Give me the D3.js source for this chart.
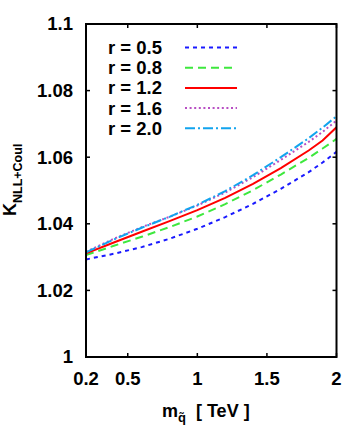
<!DOCTYPE html>
<html>
<head>
<meta charset="utf-8">
<script src="https://cdn.jsdelivr.net/npm/d3@7"></script>
<style>
  body { margin: 0; background: #fff; }
  svg { display: block; font-family: "Liberation Sans", Arial, sans-serif; font-weight: bold; }
</style>
</head>
<body>
<div id="chart"></div>
<script>
// squark mass grid (TeV)
const masses = [0.2, 0.4, 0.6, 0.8, 1.0, 1.2, 1.4, 1.6, 1.8, 1.9, 2.0];

// K factor curves for each scale ratio r
const kR05 = [1.0293, 1.0310, 1.0330, 1.0355, 1.0385, 1.0420, 1.0460, 1.0505, 1.0555, 1.0584, 1.0616];
const kR08 = [1.0306, 1.0334, 1.0361, 1.0390, 1.0422, 1.0459, 1.0501, 1.0548, 1.0598, 1.0626, 1.0655];
const kR12 = [1.0311, 1.0344, 1.0376, 1.0408, 1.0441, 1.0478, 1.0520, 1.0567, 1.0620, 1.0650, 1.0690];
const kR16 = [1.0316, 1.0355, 1.0390, 1.0421, 1.0455, 1.0494, 1.0540, 1.0592, 1.0646, 1.0676, 1.0710];
const kR20 = [1.0314, 1.0353, 1.0388, 1.0421, 1.0457, 1.0498, 1.0546, 1.0600, 1.0657, 1.0689, 1.0723];

const seriesNames = ['r = 0.5', 'r = 0.8', 'r = 1.2', 'r = 1.6', 'r = 2.0'];
const xTicks = [0.2, 0.5, 1, 1.5, 2];
const yTicks = [1, 1.02, 1.04, 1.06, 1.08, 1.1];

// line styles, one per series
const colors = ['#1a1aff', '#3ee83e', '#ff0000', '#b84fc4', '#12a4ee'];
const dashes = ['4,4', '8,5', null, '2,2.6', '10,3,2,3'];

const width = 349;
const height = 439;
const margin = {top: 24, right: 12.5, bottom: 82, left: 86};

const svg = d3.select('#chart').append('svg')
  .attr('width', width)
  .attr('height', height);

const x = d3.scaleLinear().domain([0.2, 2]).range([margin.left, width - margin.right]);
const y = d3.scaleLinear().domain([1, 1.1]).range([height - margin.bottom, margin.top]);

const series = [kR05, kR08, kR12, kR16, kR20].map((vals, i) => ({
  name: seriesNames[i],
  color: colors[i],
  dash: dashes[i],
  points: masses.map((m, j) => [m, vals[j]])
}));

// curves, clipped to the frame
svg.append('clipPath').attr('id', 'clip')
  .append('rect')
  .attr('x', x(0.2)).attr('y', y(1.1))
  .attr('width', x(2) - x(0.2)).attr('height', y(1) - y(1.1));

const line = d3.line().x(d => x(d[0])).y(d => y(d[1]));

svg.append('g')
  .attr('clip-path', 'url(#clip)')
  .selectAll('path')
  .data(series)
  .enter().append('path')
  .attr('fill', 'none')
  .attr('stroke', d => d.color)
  .attr('stroke-width', 2)
  .attr('stroke-dasharray', d => d.dash)
  .attr('d', d => line(d.points));

// inward ticks on all four sides
const tickLen = 4;
const ticks = svg.append('g').attr('stroke', '#000').attr('stroke-width', 1.5);
xTicks.forEach(t => {
  ticks.append('line').attr('x1', x(t)).attr('x2', x(t))
    .attr('y1', y(1)).attr('y2', y(1) - tickLen);
  ticks.append('line').attr('x1', x(t)).attr('x2', x(t))
    .attr('y1', y(1.1)).attr('y2', y(1.1) + tickLen);
});
yTicks.forEach(t => {
  ticks.append('line').attr('x1', x(0.2)).attr('x2', x(0.2) + tickLen)
    .attr('y1', y(t)).attr('y2', y(t));
  ticks.append('line').attr('x1', x(2)).attr('x2', x(2) - tickLen)
    .attr('y1', y(t)).attr('y2', y(t));
});

// frame
svg.append('rect')
  .attr('x', x(0.2)).attr('y', y(1.1))
  .attr('width', x(2) - x(0.2)).attr('height', y(1) - y(1.1))
  .attr('fill', 'none')
  .attr('stroke', '#000')
  .attr('stroke-width', 2);

// tick labels
svg.append('g')
  .selectAll('text')
  .data(xTicks)
  .enter().append('text')
  .attr('x', d => x(d))
  .attr('y', y(1) + 28)
  .attr('text-anchor', 'middle')
  .attr('font-size', 18.5)
  .text(d => d);

svg.append('g')
  .selectAll('text')
  .data(yTicks)
  .enter().append('text')
  .attr('x', 73)
  .attr('y', d => y(d))
  .attr('dy', '0.35em')
  .attr('text-anchor', 'end')
  .attr('font-size', 18.5)
  .text(d => d);

// legend
const legend = svg.append('g')
  .selectAll('g')
  .data(series)
  .enter().append('g')
  .attr('transform', (d, i) => 'translate(0,' + (47.5 + i * 20.2) + ')');

legend.append('text')
  .attr('x', 108)
  .attr('dy', '0.35em')
  .attr('font-size', 18.5)
  .text(d => d.name);

legend.append('line')
  .attr('x1', 185).attr('x2', 237)
  .attr('stroke', d => d.color)
  .attr('stroke-width', 2)
  .attr('stroke-dasharray', d => d.dash);

// x axis label: m with q-tilde subscript
const xLabel = svg.append('text')
  .attr('x', 162)
  .attr('y', 417)
  .attr('font-size', 18);
xLabel.append('tspan').text('m');
xLabel.append('tspan').attr('font-size', 13).attr('dy', 5).text('q\u0303');
xLabel.append('tspan').attr('dy', -5).attr('dx', 10).text('[ TeV ]');

// y axis label
const yLabel = svg.append('text')
  .attr('transform', 'translate(16,216) rotate(-90)')
  .attr('font-size', 18);
yLabel.append('tspan').text('K');
yLabel.append('tspan').attr('font-size', 12.5).attr('dy', 6).text('NLL+Coul');
</script>
</body>
</html>
